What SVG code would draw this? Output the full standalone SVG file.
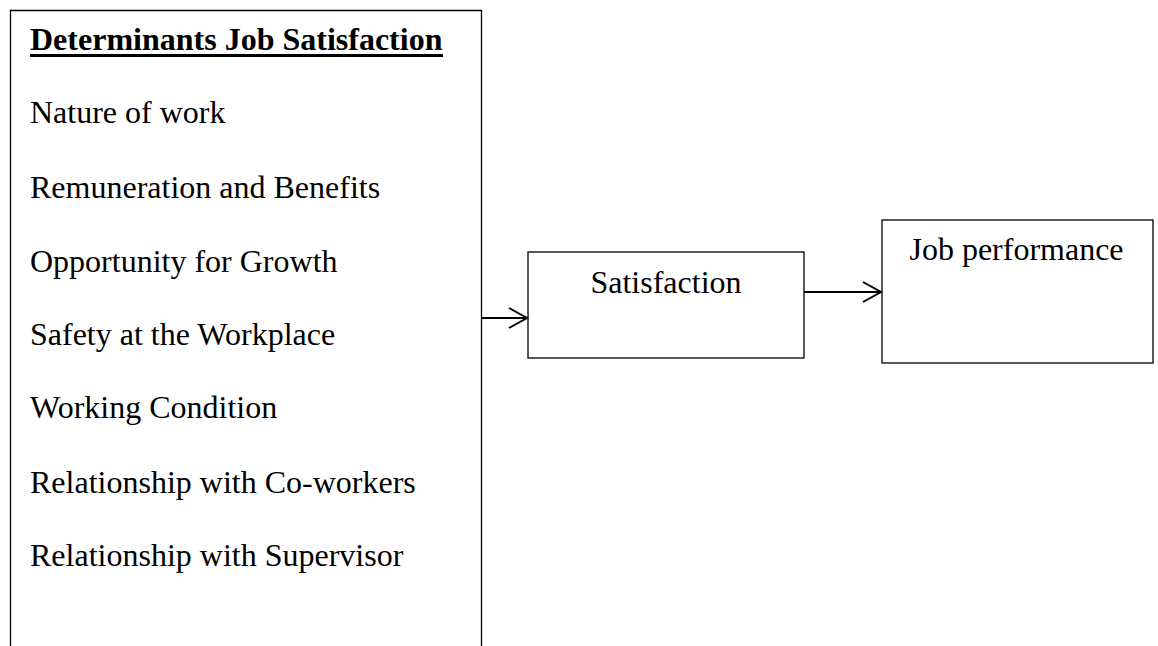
<svg xmlns="http://www.w3.org/2000/svg" width="1158" height="646" viewBox="0 0 1158 646">
<style>
.box{fill:#fff;stroke:#000;stroke-width:1.3}
.t{font-family:"Liberation Serif","Times New Roman",serif;font-size:32px;fill:#000}
.h{font-weight:bold}
.c{stroke:#000;stroke-width:2;fill:none}
</style>
<rect width="1158" height="646" fill="#fff"/>
<g id="determinants">
<path class="box" d="M10.5,660 V10.5 H481.5 V660"/>
<text class="t h" x="30" y="50">Determinants Job Satisfaction</text>
<line x1="30" y1="55.5" x2="443" y2="55.5" stroke="#000" stroke-width="3"/>
<text class="t" x="30" y="123">Nature of work</text>
<text class="t" x="30" y="198">Remuneration and Benefits</text>
<text class="t" x="30" y="272">Opportunity for Growth</text>
<text class="t" x="30" y="345">Safety at the Workplace</text>
<text class="t" x="30" y="418">Working Condition</text>
<text class="t" x="30" y="493">Relationship with Co-workers</text>
<text class="t" x="30" y="566">Relationship with Supervisor</text>
</g>
<g id="satisfaction">
<rect class="box" x="528" y="252" width="276" height="106"/>
<text class="t" x="666" y="293" text-anchor="middle">Satisfaction</text>
</g>
<g id="performance">
<rect class="box" x="882" y="220" width="271" height="143"/>
<text class="t" x="1016.5" y="260" text-anchor="middle">Job performance</text>
</g>
<g id="connectors">
<path class="c" d="M481,318 H527 M509,308 L527,318 L509,328"/>
<path class="c" d="M804,292 H881 M863,282 L881,292 L863,302"/>
</g>
</svg>
